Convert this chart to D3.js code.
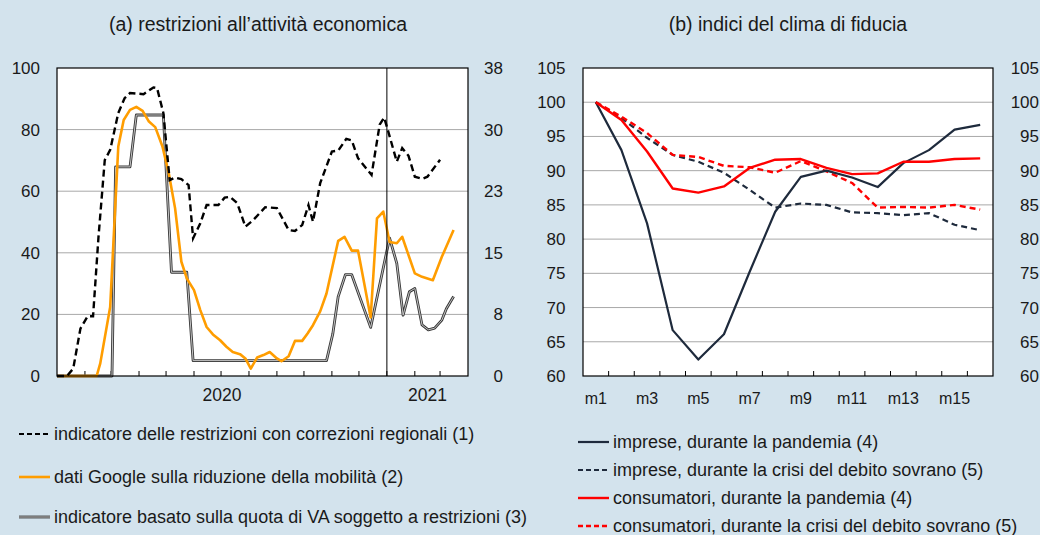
<!DOCTYPE html>
<html>
<head>
<meta charset="utf-8">
<script src="https://cdn.jsdelivr.net/npm/d3@7"></script>
<style>
  body { margin: 0; background: #d3e3ed; }
  svg { display: block; font-family: "Liberation Sans", Arial, Helvetica, sans-serif; }
</style>
</head>
<body>
<svg id="chart" width="1040" height="535"></svg>
<script>
// ---- panel (a): restrizioni all'attività economica ----
// indicatore delle restrizioni con correzioni regionali (asse sinistro)
const restrizioni = [
  ['2020-01-01', 0], ['2020-01-12', 0], ['2020-01-19', 2.4], ['2020-01-27', 15.4],
  ['2020-02-04', 19.4], ['2020-02-10', 19.4], ['2020-02-16', 45], ['2020-02-23', 70.1],
  ['2020-02-29', 73.4], ['2020-03-09', 85.4], ['2020-03-16', 90.2], ['2020-03-22', 91.9],
  ['2020-04-06', 91.5], ['2020-04-17', 93.7], ['2020-04-21', 93.5], ['2020-04-28', 85.4],
  ['2020-05-05', 63.6], ['2020-05-11', 64.4], ['2020-05-18', 63.9], ['2020-05-26', 62.0],
  ['2020-05-31', 44.7], ['2020-06-08', 49.6], ['2020-06-15', 55.5], ['2020-06-28', 55.5],
  ['2020-07-05', 57.9], ['2020-07-11', 58.2], ['2020-07-19', 56.1], ['2020-07-28', 48.5],
  ['2020-08-06', 50.7], ['2020-08-19', 54.8], ['2020-09-01', 54.5], ['2020-09-14', 47.4],
  ['2020-09-21', 47.1], ['2020-09-29', 49.0], ['2020-10-06', 55.5], ['2020-10-11', 50.1],
  ['2020-10-19', 62.6], ['2020-11-01', 72.9], ['2020-11-08', 73.2], ['2020-11-17', 77.0],
  ['2020-11-23', 76.5], ['2020-11-30', 70.7], ['2020-12-15', 65.3], ['2020-12-24', 81.6],
  ['2020-12-29', 83.9], ['2021-01-02', 79.9], ['2021-01-12', 69.6], ['2021-01-18', 74.0],
  ['2021-01-25', 71.5], ['2021-02-01', 64.7], ['2021-02-09', 64.0], ['2021-02-15', 64.7],
  ['2021-03-01', 70.2]
]

// dati Google sulla riduzione della mobilità (asse sinistro)
const mobilita = [
  ['2020-01-01', 0], ['2020-02-14', 0], ['2020-02-18', 4.1], ['2020-02-29', 22.4],
  ['2020-03-09', 74.5], ['2020-03-15', 83.1], ['2020-03-22', 86.4], ['2020-03-29', 87.4],
  ['2020-04-05', 86.1], ['2020-04-12', 82.6], ['2020-04-19', 80.8], ['2020-04-27', 74.5],
  ['2020-05-04', 65.8], ['2020-05-11', 54.5], ['2020-05-18', 37.1], ['2020-05-24', 31.7],
  ['2020-06-01', 27.9], ['2020-06-08', 21.4], ['2020-06-15', 15.9], ['2020-06-22', 13.5],
  ['2020-06-30', 11.6], ['2020-07-07', 9.5], ['2020-07-14', 7.8], ['2020-07-22', 7.1],
  ['2020-07-28', 5.7], ['2020-08-03', 2.4], ['2020-08-10', 6.0], ['2020-08-17', 6.8],
  ['2020-08-24', 7.8], ['2020-09-01', 5.7], ['2020-09-06', 4.8], ['2020-09-14', 6.4],
  ['2020-09-21', 11.4], ['2020-09-29', 11.4], ['2020-10-05', 13.8], ['2020-10-11', 16.5],
  ['2020-10-19', 21.0], ['2020-10-26', 26.8], ['2020-11-08', 43.9], ['2020-11-15', 45.2],
  ['2020-11-23', 40.7], ['2020-11-30', 40.7], ['2020-12-14', 19.0], ['2020-12-21', 51.2],
  ['2020-12-28', 53.4], ['2021-01-04', 43.5], ['2021-01-12', 43.1], ['2021-01-18', 45.2],
  ['2021-02-01', 33.3], ['2021-02-09', 32.2], ['2021-02-21', 31.1], ['2021-03-03', 38.7],
  ['2021-03-16', 47.4]
]

// indicatore basato sulla quota di VA soggetto a restrizioni (asse destro)
const quotaVA = [
  ['2020-01-01', 0], ['2020-03-02', 0], ['2020-03-06', 25.8], ['2020-03-22', 25.8],
  ['2020-03-29', 32.2], ['2020-04-28', 32.2], ['2020-05-07', 12.8], ['2020-05-24', 12.8],
  ['2020-05-31', 1.9], ['2020-10-26', 1.9], ['2020-11-02', 5.2], ['2020-11-08', 9.8],
  ['2020-11-16', 12.5], ['2020-11-23', 12.5], ['2020-12-14', 6.0], ['2021-01-04', 17.0],
  ['2021-01-12', 13.9], ['2021-01-19', 7.5], ['2021-01-26', 10.4], ['2021-02-01', 10.8],
  ['2021-02-09', 6.3], ['2021-02-16', 5.7], ['2021-02-23', 5.9], ['2021-03-03', 6.9],
  ['2021-03-08', 8.3], ['2021-03-16', 9.8]
]

const ticksSinistraA = [0, 20, 40, 60, 80, 100]
const ticksDestraA = [0, 7.6, 15.2, 22.8, 30.4, 38]
const anniA = ['2020', '2021']

// ---- panel (b): indici del clima di fiducia ----
const mesi = ['m1', 'm2', 'm3', 'm4', 'm5', 'm6', 'm7', 'm8',
  'm9', 'm10', 'm11', 'm12', 'm13', 'm14', 'm15', 'm16']
const impresePandemia = [100, 93.0, 82.3, 66.7, 62.4, 66.1, 75.2, 84.0,
  89.1, 90.0, 89.0, 87.6, 91.1, 93.0, 96.0, 96.7]
const impreseDebito = [100, 97.7, 94.8, 92.3, 91.3, 89.7, 87.2, 84.6,
  85.2, 85.0, 83.9, 83.8, 83.5, 83.8, 82.1, 81.3]
const consumatoriPandemia = [100, 97.4, 92.8, 87.4, 86.8, 87.7, 90.4, 91.6,
  91.7, 90.4, 89.5, 89.6, 91.3, 91.3, 91.7, 91.8]
const consumatoriDebito = [100, 97.9, 95.5, 92.3, 92.0, 90.7, 90.5, 89.7,
  91.4, 89.9, 88.2, 84.6, 84.7, 84.6, 85.0, 84.3]
const ticksB = [60, 65, 70, 75, 80, 85, 90, 95, 100, 105]

const svg = d3.select('#chart')
const parse = d3.timeParse('%Y-%m-%d')
const gridColor = '#a8a8a8'
const textColor = '#1a1a1a'

function title(x, txt) {
  svg.append('text')
    .attr('x', x).attr('y', 31)
    .attr('text-anchor', 'middle')
    .attr('font-size', 19.5).attr('fill', textColor)
    .text(txt)
}

function styleTicks(g, size) {
  g.selectAll('.tick text')
    .attr('font-size', size).attr('fill', textColor)
    .attr('font-family', '"Liberation Sans", Arial, sans-serif')
}

// ================= panel (a) =================
const xa = d3.scaleTime()
  .domain([parse('2020-01-01'), parse('2021-04-01')])
  .range([57, 468])
const ya = d3.scaleLinear().domain([0, 100]).range([376, 68])
const ya2 = d3.scaleLinear().domain([0, 38]).range([376, 68])

title(258, '(a) restrizioni all\u2019attività economica')

svg.append('rect')
  .attr('x', 57).attr('y', 68).attr('width', 411).attr('height', 308)
  .attr('fill', '#fff')

svg.append('g').selectAll('line')
  .data(ticksSinistraA.slice(1, -1))
  .join('line')
  .attr('x1', 57).attr('x2', 468)
  .attr('y1', d => ya(d)).attr('y2', d => ya(d))
  .attr('stroke', gridColor).attr('stroke-width', 1)

const axA = svg.append('g')
  .attr('transform', 'translate(57,0)')
  .call(d3.axisLeft(ya).tickValues(ticksSinistraA).tickSize(0).tickPadding(17))
axA.select('.domain').remove()
styleTicks(axA, 17)

const axA2 = svg.append('g')
  .attr('transform', 'translate(503,0)')
  .call(d3.axisRight(ya2).tickValues(ticksDestraA).tickFormat(d3.format('.0f')).tickSize(0))
axA2.select('.domain').remove()
axA2.selectAll('text').attr('x', 0).attr('text-anchor', 'end')
styleTicks(axA2, 17)

// month tick marks (inside the plot)
const monthTicks = d3.timeMonth.range(parse('2020-02-01'), parse('2021-04-01'))
svg.append('g').selectAll('line')
  .data(monthTicks)
  .join('line')
  .attr('x1', d => xa(d)).attr('x2', d => xa(d))
  .attr('y1', 376).attr('y2', 371)
  .attr('stroke', '#000').attr('stroke-width', 1)

// year labels centered in each year's span
svg.append('g').selectAll('text')
  .data(anniA)
  .join('text')
  .attr('x', d => {
    const a = d3.max([parse(d + '-01-01'), xa.domain()[0]])
    const b = d3.min([parse((+d + 1) + '-01-01'), xa.domain()[1]])
    return (xa(a) + xa(b)) / 2
  })
  .attr('y', 401)
  .attr('text-anchor', 'middle')
  .attr('font-size', 17.5).attr('fill', textColor)
  .text(d => d)

const lineA = d3.line().x(d => xa(parse(d[0]))).y(d => ya(d[1]))
const lineA2 = d3.line().x(d => xa(parse(d[0]))).y(d => ya2(d[1]))

svg.append('path').datum(quotaVA)
  .attr('d', lineA2).attr('fill', 'none')
  .attr('stroke', '#383838').attr('stroke-width', 2.8).attr('stroke-linejoin', 'round')
svg.append('path').datum(quotaVA)
  .attr('d', lineA2).attr('fill', 'none')
  .attr('stroke', '#c4c4c4').attr('stroke-width', 1).attr('stroke-linejoin', 'round')

svg.append('path').datum(mobilita)
  .attr('d', lineA).attr('fill', 'none')
  .attr('stroke', '#ff9d00').attr('stroke-width', 2.6).attr('stroke-linejoin', 'round')

svg.append('path').datum(restrizioni)
  .attr('d', lineA).attr('fill', 'none')
  .attr('stroke', '#000').attr('stroke-width', 2.4)
  .attr('stroke-dasharray', '7,4')

// vertical marker at the start of 2021
svg.append('line')
  .attr('x1', xa(parse('2021-01-01'))).attr('x2', xa(parse('2021-01-01')))
  .attr('y1', 68).attr('y2', 376)
  .attr('stroke', '#000').attr('stroke-width', 1)

svg.append('rect')
  .attr('x', 57).attr('y', 68).attr('width', 411).attr('height', 308)
  .attr('fill', 'none').attr('stroke', '#000').attr('stroke-width', 1.2)

// ================= panel (b) =================
const xb = d3.scaleBand().domain(mesi).range([583, 993])
const yb = d3.scaleLinear().domain([60, 105]).range([376, 68])

title(788, '(b) indici del clima di fiducia')

svg.append('rect')
  .attr('x', 583).attr('y', 68).attr('width', 410).attr('height', 308)
  .attr('fill', '#fff')

svg.append('g').selectAll('line')
  .data(ticksB.slice(1, -1))
  .join('line')
  .attr('x1', 583).attr('x2', 993)
  .attr('y1', d => yb(d)).attr('y2', d => yb(d))
  .attr('stroke', gridColor).attr('stroke-width', 1)

const axB = svg.append('g')
  .attr('transform', 'translate(583,0)')
  .call(d3.axisLeft(yb).tickValues(ticksB).tickSize(0).tickPadding(17.5))
axB.select('.domain').remove()
styleTicks(axB, 17)

const axB2 = svg.append('g')
  .attr('transform', 'translate(1039,0)')
  .call(d3.axisRight(yb).tickValues(ticksB).tickSize(0))
axB2.select('.domain').remove()
axB2.selectAll('text').attr('x', 0).attr('text-anchor', 'end')
styleTicks(axB2, 17)

const axBx = svg.append('g')
  .attr('transform', 'translate(0,376)')
  .call(d3.axisBottom(xb)
    .tickValues(mesi.filter((d, i) => i % 2 === 0))
    .tickSize(0).tickPadding(17))
axBx.select('.domain').remove()
styleTicks(axBx, 16)

// band boundary ticks
svg.append('g').selectAll('line')
  .data(mesi.slice(1))
  .join('line')
  .attr('x1', d => xb(d)).attr('x2', d => xb(d))
  .attr('y1', 376).attr('y2', 371)
  .attr('stroke', '#000').attr('stroke-width', 1)

const serieB = [
  { values: impreseDebito, color: '#1e2a3c', width: 2.2, dash: '6,4' },
  { values: consumatoriDebito, color: '#ff0000', width: 2.4, dash: '6,4' },
  { values: impresePandemia, color: '#1e2a3c', width: 2.2, dash: null },
  { values: consumatoriPandemia, color: '#ff0000', width: 2.4, dash: null }
]
const lineB = d3.line()
  .x((d, i) => xb(mesi[i]) + xb.bandwidth() / 2)
  .y(d => yb(d))

serieB.forEach(s => {
  svg.append('path').datum(s.values)
    .attr('d', lineB).attr('fill', 'none')
    .attr('stroke', s.color).attr('stroke-width', s.width)
    .attr('stroke-dasharray', s.dash)
    .attr('stroke-linejoin', 'round')
})

svg.append('rect')
  .attr('x', 583).attr('y', 68).attr('width', 410).attr('height', 308)
  .attr('fill', 'none').attr('stroke', '#000').attr('stroke-width', 1.2)

// ================= legends =================
const legendA = [
  { label: 'indicatore delle restrizioni con correzioni regionali (1)', color: '#000', dash: '5,3', width: 2.2, y: 434 },
  { label: 'dati Google sulla riduzione della mobilità (2)', color: '#ff9d00', dash: null, width: 2.6, y: 477 },
  { label: 'indicatore basato sulla quota di VA soggetto a restrizioni (3)', color: '#383838', dash: null, width: 2.8, y: 517, inner: '#c4c4c4' }
]
const legendB = [
  { label: 'imprese, durante la pandemia (4)', color: '#1e2a3c', dash: null, width: 2.2, y: 442 },
  { label: 'imprese, durante la crisi del debito sovrano (5)', color: '#1e2a3c', dash: '5,3', width: 2.2, y: 470 },
  { label: 'consumatori, durante la pandemia (4)', color: '#ff0000', dash: null, width: 2.4, y: 498 },
  { label: 'consumatori, durante la crisi del debito sovrano (5)', color: '#ff0000', dash: '5,3', width: 2.4, y: 526 }
]

function legend(items, x0, x1) {
  const g = svg.append('g')
  items.forEach(it => {
    g.append('line')
      .attr('x1', x0).attr('x2', x1).attr('y1', it.y).attr('y2', it.y)
      .attr('stroke', it.color).attr('stroke-width', it.width)
      .attr('stroke-dasharray', it.dash)
    if (it.inner) {
      g.append('line')
        .attr('x1', x0).attr('x2', x1).attr('y1', it.y).attr('y2', it.y)
        .attr('stroke', it.inner).attr('stroke-width', 1)
    }
    g.append('text')
      .attr('x', x1 + 4).attr('y', it.y)
      .attr('dy', '0.35em')
      .attr('font-size', 18).attr('fill', textColor)
      .text(it.label)
  })
}
legend(legendA, 19, 50)
legend(legendB, 578, 609)
</script>
</body>
</html>
